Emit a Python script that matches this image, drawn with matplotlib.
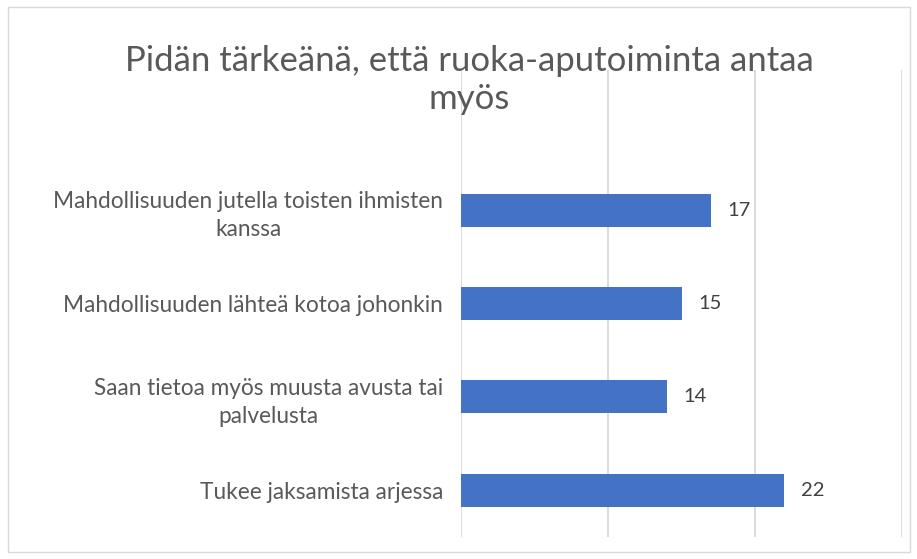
import matplotlib.pyplot as plt
from matplotlib.patches import Rectangle

kategoriat = ['Tukee jaksamista arjessa',
              'Saan tietoa myös muusta avusta tai\npalvelusta',
              'Mahdollisuuden lähteä kotoa johonkin',
              'Mahdollisuuden jutella toisten ihmisten\nkanssa']
arvot = [22, 14, 15, 17]
otsikko = 'Pidän tärkeänä, että ruoka-aputoiminta antaa\nmyös'

plt.rcParams['font.family'] = ['Lato', 'DejaVu Sans']

fig = plt.figure(figsize=(9.17, 5.59), dpi=100)
ax = fig.add_axes([461/917, 1 - 537/559, (902 - 461)/917, (537 - 70)/559])

y = list(range(len(kategoriat)))
palkit = ax.barh(y, arvot, height=0.353, color='#4472c4', zorder=3)

ax.set_xlim(0, 30)
ax.set_ylim(-0.5, 4.5)
ax.set_xticks([0, 10, 20, 30])
ax.xaxis.grid(True, color='#d9d9d9', linewidth=1.3, zorder=0)
ax.tick_params(axis='x', length=0, labelbottom=False)
ax.tick_params(axis='y', length=0, pad=13)
ax.set_yticks(y)
ax.set_yticklabels(kategoriat, fontsize=16.3, color='#595959', ha='right',
                   multialignment='center', linespacing=1.4)
for s in ax.spines.values():
    s.set_visible(False)

for p in palkit:
    w = p.get_width()
    ax.annotate(f'{w:g}', xy=(w, p.get_y() + p.get_height()/2), xytext=(12, 0),
                textcoords='offset points', va='center', fontsize=14.5,
                color='#404040')

fig.text(469/917, 1 - 80/559, otsikko, ha='center', va='center', fontsize=25,
         color='#595959', linespacing=1.25)

fig.patches.append(Rectangle((8/917, 1 - 552/559), 902/917, 545/559,
                             transform=fig.transFigure, fill=False,
                             edgecolor='#d9d9d9', linewidth=1))

fig.savefig('out.png', dpi=100)
